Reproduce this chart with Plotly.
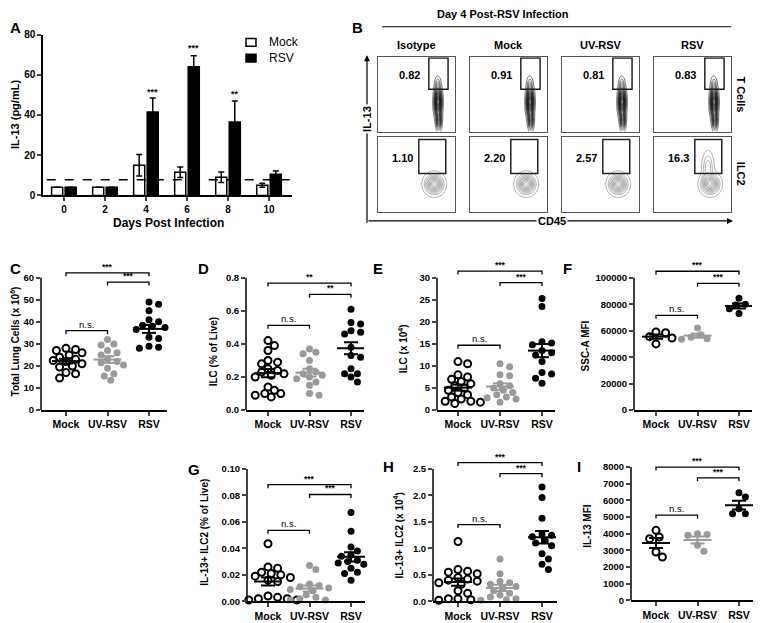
import numpy as np
import plotly.graph_objects as go

W, H = 761, 623
OFF = 8                      # page body margin
FW, FH = W - OFF, H - OFF    # figure size
FONT = "Arial, Liberation Sans, sans-serif"
GRAY = "#9a9a9a"

# ---------------------------------------------------------------------------
# Panel A: IL-13 in BAL over time
# ---------------------------------------------------------------------------
DAYS = ["0", "2", "4", "6", "8", "10"]
MOCK_IL13 = [4.0, 4.0, 15.0, 11.5, 9.0, 5.0]
MOCK_IL13_ERR = [0.0, 0.0, 5.3, 2.6, 2.6, 1.0]
RSV_IL13 = [4.0, 4.0, 41.5, 64.0, 36.5, 10.5]
RSV_IL13_ERR = [0.0, 0.0, 7.0, 5.5, 10.5, 1.6]
DETECTION_LIMIT = 7.8
A_SIG_DAYS = ["4", "6", "8"]
A_SIG_Y = [51.5, 73.5, 50.5]
A_SIG_TXT = ["***", "***", "**"]

# ---------------------------------------------------------------------------
# Panel B: flow plots, Day 4
# ---------------------------------------------------------------------------
FLOW_COLS = ["Isotype", "Mock", "UV-RSV", "RSV"]
TCELL_PCT = ["0.82", "0.91", "0.81", "0.83"]
ILC2_PCT = ["1.10", "2.20", "2.57", "16.3"]
TCELL_GATE = [0.66, 0.91, 0.57, 0.99]   # x0, x1, y0, y1 (relative units)
ILC2_GATE = [0.53, 0.88, 0.51, 0.96]
# populations: (cd45, il13, spread_cd45, spread_il13, weight)
TCELL_POPS = [(0.78, 0.40, 0.026, 0.11, 1.0), (0.79, 0.15, 0.020, 0.07, 0.45),
              (0.775, 0.64, 0.022, 0.06, 0.12)]
ILC2_POPS = [(0.73, 0.37, 0.066, 0.072, 1.0)]
ILC2_RSV_EXTRA = [(0.70, 0.60, 0.042, 0.11, 0.35)]

# ---------------------------------------------------------------------------
# Panels C-I: dot plots
# ---------------------------------------------------------------------------
GROUPS = ["Mock", "UV-RSV", "RSV"]

C_MOCK = [28.0, 27.5, 27.0, 26.0, 25.0, 24.0, 23.0, 22.5, 22.0, 21.0, 20.0, 19.5, 17.0, 16.5, 14.5]
C_UV = [32.0, 30.0, 29.5, 27.0, 26.0, 25.0, 23.0, 22.0, 21.5, 20.5, 19.0, 16.5, 15.5, 13.5]
C_RSV = [49.0, 48.0, 45.0, 41.0, 40.0, 38.5, 38.0, 37.5, 36.5, 33.0, 32.5, 29.0, 28.5, 28.0, 28.0]

D_MOCK = [0.42, 0.39, 0.36, 0.30, 0.29, 0.28, 0.25, 0.24, 0.23, 0.22, 0.21, 0.20, 0.14, 0.12,
          0.10, 0.10, 0.09, 0.08]
D_UV = [0.37, 0.35, 0.34, 0.30, 0.25, 0.23, 0.22, 0.21, 0.20, 0.19, 0.17, 0.15, 0.10, 0.09]
D_RSV = [0.61, 0.53, 0.52, 0.48, 0.47, 0.46, 0.45, 0.38, 0.33, 0.32, 0.25, 0.22, 0.22, 0.20, 0.17]

E_MOCK = [11.0, 10.5, 8.0, 7.5, 7.0, 6.5, 6.0, 5.5, 5.0, 4.5, 4.0, 3.5, 3.0, 2.5, 2.0, 2.0, 1.8, 1.5]
E_UV = [10.5, 9.8, 8.0, 7.8, 6.0, 5.5, 5.0, 4.5, 4.0, 3.5, 3.0, 2.8, 2.5, 1.8]
E_RSV = [25.3, 23.5, 15.5, 15.2, 14.8, 14.5, 13.5, 13.0, 12.5, 11.0, 8.5, 8.2, 7.2, 6.1]

F_MOCK = [59000, 58500, 55500, 54500, 50000]
F_UV = [62000, 57000, 55000, 54000, 53500]
F_RSV = [84500, 80000, 79500, 76500, 73000]

G_MOCK = [0.0435, 0.026, 0.025, 0.022, 0.021, 0.020, 0.019, 0.018, 0.016, 0.015, 0.004, 0.003,
          0.002, 0.002, 0.001, 0.001]
G_UV = [0.027, 0.024, 0.013, 0.012, 0.011, 0.010, 0.009, 0.008, 0.005, 0.003, 0.002, 0.001, 0.001]
G_RSV = [0.067, 0.053, 0.041, 0.038, 0.035, 0.034, 0.031, 0.030, 0.029, 0.028, 0.025, 0.022,
         0.021, 0.016]

H_MOCK = [1.13, 0.60, 0.57, 0.55, 0.52, 0.45, 0.42, 0.40, 0.38, 0.35, 0.32, 0.20, 0.15, 0.05,
          0.05, 0.03, 0.02]
H_UV = [0.80, 0.52, 0.38, 0.35, 0.32, 0.28, 0.25, 0.20, 0.15, 0.12, 0.08, 0.05, 0.03, 0.02]
H_RSV = [2.16, 1.96, 1.57, 1.27, 1.25, 1.22, 1.18, 1.15, 1.10, 1.05, 0.90, 0.80, 0.70, 0.60]

I_MOCK = [4200, 3800, 3700, 2900, 2600]
I_UV = [4000, 3950, 3900, 3300, 2950]
I_RSV = [6450, 6200, 5500, 5200, 5200]

# brackets: (group_from, group_to, height, label)
C_BRACKETS = [(0, 2, 62.2, "***"), (1, 2, 58.0, "***"), (0, 1, 36.0, "n.s.")]
D_BRACKETS = [(0, 2, 0.768, "**"), (1, 2, 0.70, "**"), (0, 1, 0.512, "n.s.")]
E_BRACKETS = [(0, 2, 31.5, "***"), (1, 2, 28.9, "***"), (0, 1, 14.7, "n.s.")]
F_BRACKETS = [(0, 2, 104900, "***"), (1, 2, 95800, "***"), (0, 1, 71600, "n.s.")]
G_BRACKETS = [(0, 2, 0.0881, "***"), (1, 2, 0.0807, "***"), (0, 1, 0.0536, "n.s.")]
H_BRACKETS = [(0, 2, 2.62, "***"), (1, 2, 2.41, "***"), (0, 1, 1.45, "n.s.")]
I_BRACKETS = [(0, 2, 7990, "***"), (1, 2, 7350, "***"), (0, 1, 5110, "n.s.")]

# ---------------------------------------------------------------------------
fig = go.Figure()
axes = {}
shapes = []
annotations = []


def fx(x):
    return (x - OFF) / FW


def fy(y):
    return 1 - (y - OFF) / FH


def names(n):
    s = "" if n == 1 else str(n)
    return "x" + s, "y" + s, "xaxis" + s, "yaxis" + s


def text(x, y, s, size=11, bold=True, angle=0, xanchor="center", **kw):
    annotations.append(dict(x=fx(x), y=fy(y), xref="paper", yref="paper", text=s,
                            showarrow=False, textangle=angle, xanchor=xanchor,
                            yanchor="middle",
                            font=dict(family=FONT, size=size, color="black",
                                      weight="bold" if bold else "normal"), **kw))


def tick_font(size):
    return dict(family=FONT, size=size, color="black", weight="bold")


# ---------------- Panel A ----------------
xa, ya, xk, yk = names(1)
fig.add_trace(go.Bar(x=DAYS, y=MOCK_IL13, name="Mock", xaxis=xa, yaxis=ya,
                     marker=dict(color="white", line=dict(color="black", width=1.5)),
                     error_y=dict(type="data", array=MOCK_IL13_ERR, color="black",
                                  thickness=1.5, width=3)))
fig.add_trace(go.Bar(x=DAYS, y=RSV_IL13, name="RSV", xaxis=xa, yaxis=ya,
                     marker=dict(color="black", line=dict(color="black", width=1.5)),
                     error_y=dict(type="data", array=RSV_IL13_ERR, color="black",
                                  thickness=1.5, width=3)))
axes[xk] = dict(domain=[fx(43), fx(292)], anchor=ya, range=[-0.51, 5.56], type="category",
                showline=True, linecolor="black", linewidth=1.5, ticks="outside",
                ticklen=4, tickwidth=1.5, tickfont=tick_font(10), showgrid=False)
axes[yk] = dict(domain=[fy(193), fy(29)], anchor=xa, range=[0, 80],
                tickvals=[0, 20, 40, 60, 80], showline=True, linecolor="black", linewidth=1.5,
                ticks="outside", ticklen=4, tickwidth=1.5, tickfont=tick_font(10),
                showgrid=False, zeroline=False)
shapes.append(dict(type="line", xref="x domain", yref="y", x0=0.015, x1=1.0,
                   y0=DETECTION_LIMIT, y1=DETECTION_LIMIT,
                   line=dict(color="black", width=1.5, dash="dash")))
for d, yv, s in zip(A_SIG_DAYS, A_SIG_Y, A_SIG_TXT):
    annotations.append(dict(x=DAYS.index(d), y=yv, xref="x", yref="y", text=s,
                            showarrow=False, xshift=7,
                            font=dict(family=FONT, size=9, weight="bold")))
text(168, 221, "Days Post Infection", size=12)
text(15, 111, "IL-13 (pg/mL)", size=11, angle=-90)
# legend (drawn by hand to match the small swatches)
for i, (lab, fill) in enumerate([("Mock", "white"), ("RSV", "black")]):
    y0 = 33 + 16 * i
    shapes.append(dict(type="rect", xref="paper", yref="paper", x0=fx(246), x1=fx(256),
                       y0=fy(y0 + 8), y1=fy(y0), fillcolor=fill,
                       line=dict(color="black", width=1.5)))
    text(267, y0 + 4, lab, size=12, bold=False, xanchor="left")

# ---------------- Panel B ----------------
grid = np.linspace(0, 1, 90)
GX, GY = np.meshgrid(grid, grid)


def density(pops):
    z = np.zeros_like(GX)
    for cx, cy, sx, sy, w in pops:
        z += w * np.exp(-0.5 * (((GX - cx) / sx) ** 2 + ((GY - cy) / sy) ** 2))
    return z / z.max()


col_x = [378, 470, 562, 654]
row_y = [(52, 128), (133, 210)]
n = 2
for ci, col in enumerate(FLOW_COLS):
    x0 = col_x[ci]
    for ri in range(2):
        xa, ya, xk, yk = names(n)
        top, bot = row_y[ri]
        axes[xk] = dict(domain=[fx(x0), fx(x0 + 77)], anchor=ya, range=[0, 1],
                        showline=True, mirror=True, linecolor="#555", linewidth=1,
                        showticklabels=False, ticks="", showgrid=False, zeroline=False)
        axes[yk] = dict(domain=[fy(bot), fy(top)], anchor=xa, range=[0, 1],
                        showline=True, mirror=True, linecolor="#555", linewidth=1,
                        showticklabels=False, ticks="", showgrid=False, zeroline=False)
        if ri == 0:
            z = density(TCELL_POPS)
            col_line, lw, cs = "#1a1a1a", 0.6, dict(start=0.03, end=0.97, size=0.06)
            gate, pct, lx, ly = TCELL_GATE, TCELL_PCT[ci], 0.41, 0.76
        else:
            pops = ILC2_POPS + (ILC2_RSV_EXTRA if col == "RSV" else [])
            z = density(pops)
            col_line, lw, cs = "#8a8a8a", 0.7, dict(start=0.05, end=0.95, size=0.1)
            gate, pct, lx, ly = ILC2_GATE, ILC2_PCT[ci], 0.32, 0.71
        fig.add_trace(go.Contour(x=grid, y=grid, z=z, xaxis=xa, yaxis=ya, showscale=False,
                                 contours=dict(coloring="lines", **cs),
                                 colorscale=[[0, col_line], [1, col_line]],
                                 line=dict(width=lw), hoverinfo="skip"))
        shapes.append(dict(type="rect", xref=xa, yref=ya, x0=gate[0], x1=gate[1],
                           y0=gate[2], y1=gate[3], line=dict(color="#222", width=1.5)))
        annotations.append(dict(x=lx, y=ly, xref=xa, yref=ya, text=pct, showarrow=False,
                                font=dict(family=FONT, size=11, weight="bold")))
        n += 1
    text(x0 + 38.5, 40, col, size=11)

text(503, 8, "Day 4 Post-RSV Infection", size=11)
shapes.append(dict(type="line", xref="paper", yref="paper", x0=fx(382), x1=fx(731),
                   y0=fy(21), y1=fy(21), line=dict(color="black", width=1.2)))
text(741, 90, "T Cells", size=11, angle=90)
text(741, 171, "ILC2", size=11, angle=90)
# IL-13 / CD45 axis arrows (tail offsets in pixels)
annotations.append(dict(x=fx(367), y=fy(50), ax=0, ay=169, xref="paper", yref="paper",
                        text="", showarrow=True, arrowhead=2, arrowsize=1, arrowwidth=1.2,
                        arrowcolor="black"))
annotations.append(dict(x=fx(733), y=fy(219), ax=-366, ay=0, xref="paper", yref="paper",
                        text="", showarrow=True, arrowhead=2, arrowsize=1, arrowwidth=1.2,
                        arrowcolor="black"))
text(367, 115, "IL-13", size=11, angle=-90, bgcolor="white")
text(552, 219, "CD45", size=11, bgcolor="white")


# ---------------- Panels C-I ----------------
def swarm(values, ppy, ppx, diam=7.2, step=3.2):
    order = np.argsort(values)[::-1]
    placed = []
    offs = np.zeros(len(values))
    for i in order:
        yv = values[i] * ppy
        k = 0
        while True:
            cands = [0.0] if k == 0 else [k * step, -k * step]
            ok = None
            for c in cands:
                if all((c - p) ** 2 + (yv - q) ** 2 >= diam ** 2 for p, q in placed):
                    ok = c
                    break
            if ok is not None:
                break
            k += 1
        placed.append((ok, yv))
        offs[i] = ok / ppx
    return offs


PANELS = [
    # n, data, brackets, x px (left, mock, rsv, right), y px (zero, maxtick, top), ticks, fmt, title, title pos
    (10, (C_MOCK, C_UV, C_RSV), C_BRACKETS, (41, 66, 149, 167), (412, 277, 262), 60, 10, "d",
     "Total Lung Cells (x 10<sup>6</sup>)", (15, 342)),
    (11, (D_MOCK, D_UV, D_RSV), D_BRACKETS, (246, 268, 351, 364), (412, 277, 262), 0.8, 0.2, ".1f",
     "ILC (% of Live)", (213, 352)),
    (12, (E_MOCK, E_UV, E_RSV), E_BRACKETS, (437, 458, 542, 555), (412, 277, 262), 30, 5, "d",
     "ILC (x 10<sup>4</sup>)", (403, 350)),
    (13, (F_MOCK, F_UV, F_RSV), F_BRACKETS, (634, 656, 739, 752), (412, 277, 262), 100000, 20000,
     "d", "SSC-A MFI", (585, 347)),
    (14, (G_MOCK, G_UV, G_RSV), G_BRACKETS, (247, 268, 351, 365), (607, 472, 466), 0.10, 0.02,
     ".2f", "IL-13+ ILC2 (% of Live)", (205, 537)),
    (15, (H_MOCK, H_UV, H_RSV), H_BRACKETS, (433, 458, 542, 557), (607, 472, 458), 2.5, 0.5, ".1f",
     "IL-13+ ILC2 (x 10<sup>4</sup>)", (398, 540)),
    (16, (I_MOCK, I_UV, I_RSV), I_BRACKETS, (631, 656, 739, 753), (606, 470, 458), 8000, 1000, "d",
     "IL-13 MFI", (588, 530)),
]

for n, data, brackets, xpx, ypx, ymax, dtick, fmt, title, tpos in PANELS:
    xa, ya, xk, yk = names(n)
    left, mock, rsv, right = xpx
    zero, maxtick, top = ypx
    sp = (rsv - mock) / 2.0
    xr = [(left - mock) / sp, (right - mock) / sp]
    ytop = ymax * (zero - top) / (zero - maxtick)
    ppy = (zero - maxtick) / ymax
    axes[xk] = dict(domain=[fx(left), fx(right)], anchor=ya, range=xr, tickvals=[0, 1, 2],
                    ticktext=GROUPS, showline=True, linecolor="black", linewidth=1.5,
                    ticks="outside", ticklen=4, tickwidth=1.5, tickfont=tick_font(10.5),
                    showgrid=False, zeroline=False)
    axes[yk] = dict(domain=[fy(zero), fy(top)], anchor=xa, range=[0, ytop],
                    tickvals=[float(v) for v in np.round(np.arange(0, ymax + dtick / 2, dtick), 6)],
                    tickformat=fmt, showline=False, ticks="outside", ticklen=4, tickwidth=1.5,
                    tickfont=tick_font(9.5), showgrid=False, zeroline=False)
    shapes.append(dict(type="line", xref=xa + " domain", yref=ya, x0=0, x1=0, y0=0, y1=ymax,
                       line=dict(color="black", width=1.5)))
    styles = [
        dict(symbol="circle-open", size=7, color="black", line=dict(width=2, color="black")),
        dict(symbol="circle", size=7, color=GRAY),
        dict(symbol="circle", size=7, color="black"),
    ]
    line_cols = ["black", GRAY, "black"]
    for g, vals in enumerate(data):
        vals = np.asarray(vals, dtype=float)
        offs = swarm(vals, ppy, sp)
        fig.add_trace(go.Scatter(x=g + offs, y=vals, mode="markers", marker=styles[g],
                                 xaxis=xa, yaxis=ya, cliponaxis=False, hoverinfo="skip"))
        m = vals.mean()
        se = vals.std(ddof=1) / np.sqrt(len(vals))
        hw, cw = 14 / sp, 7 / sp
        fig.add_trace(go.Scatter(
            x=[g - hw, g + hw, None, g, g, None, g - cw, g + cw, None, g - cw, g + cw],
            y=[m, m, None, m - se, m + se, None, m - se, m - se, None, m + se, m + se],
            mode="lines", line=dict(color=line_cols[g], width=2), xaxis=xa, yaxis=ya,
            hoverinfo="skip"))
    tick = 3.5 / ppy
    for g1, g2, hgt, lab in brackets:
        fig.add_trace(go.Scatter(x=[g1, g1, g2, g2], y=[hgt - tick, hgt, hgt, hgt - tick],
                                 mode="lines", line=dict(color="black", width=1.3),
                                 xaxis=xa, yaxis=ya, hoverinfo="skip", cliponaxis=False))
        annotations.append(dict(x=(g1 + g2) / 2, y=hgt, xref=xa, yref=ya, text=lab,
                                showarrow=False, yanchor="bottom", yshift=-1,
                                font=dict(family=FONT, size=8.5 if lab != "n.s." else 9.5,
                                          weight="bold" if lab != "n.s." else "normal")))
    text(tpos[0], tpos[1], title, size=10, angle=-90)

# panel letters
for lab, x, y in [("A", 15, 22), ("B", 357, 22), ("C", 15, 268), ("D", 203, 268),
                  ("E", 378, 268), ("F", 567, 268), ("G", 194, 473), ("H", 388, 469),
                  ("I", 579, 469)]:
    text(x, y, lab, size=15)

for tr in fig.data:
    tr.showlegend = False

fig.update_layout(
    width=FW, height=FH, margin=dict(l=0, r=0, t=0, b=0),
    paper_bgcolor="white", plot_bgcolor="white",
    barmode="group", bargap=0.34, bargroupgap=0.18,
    font=dict(family=FONT, color="black"),
    shapes=shapes, annotations=annotations,
    **axes,
)

fig.write_html("out.html")
